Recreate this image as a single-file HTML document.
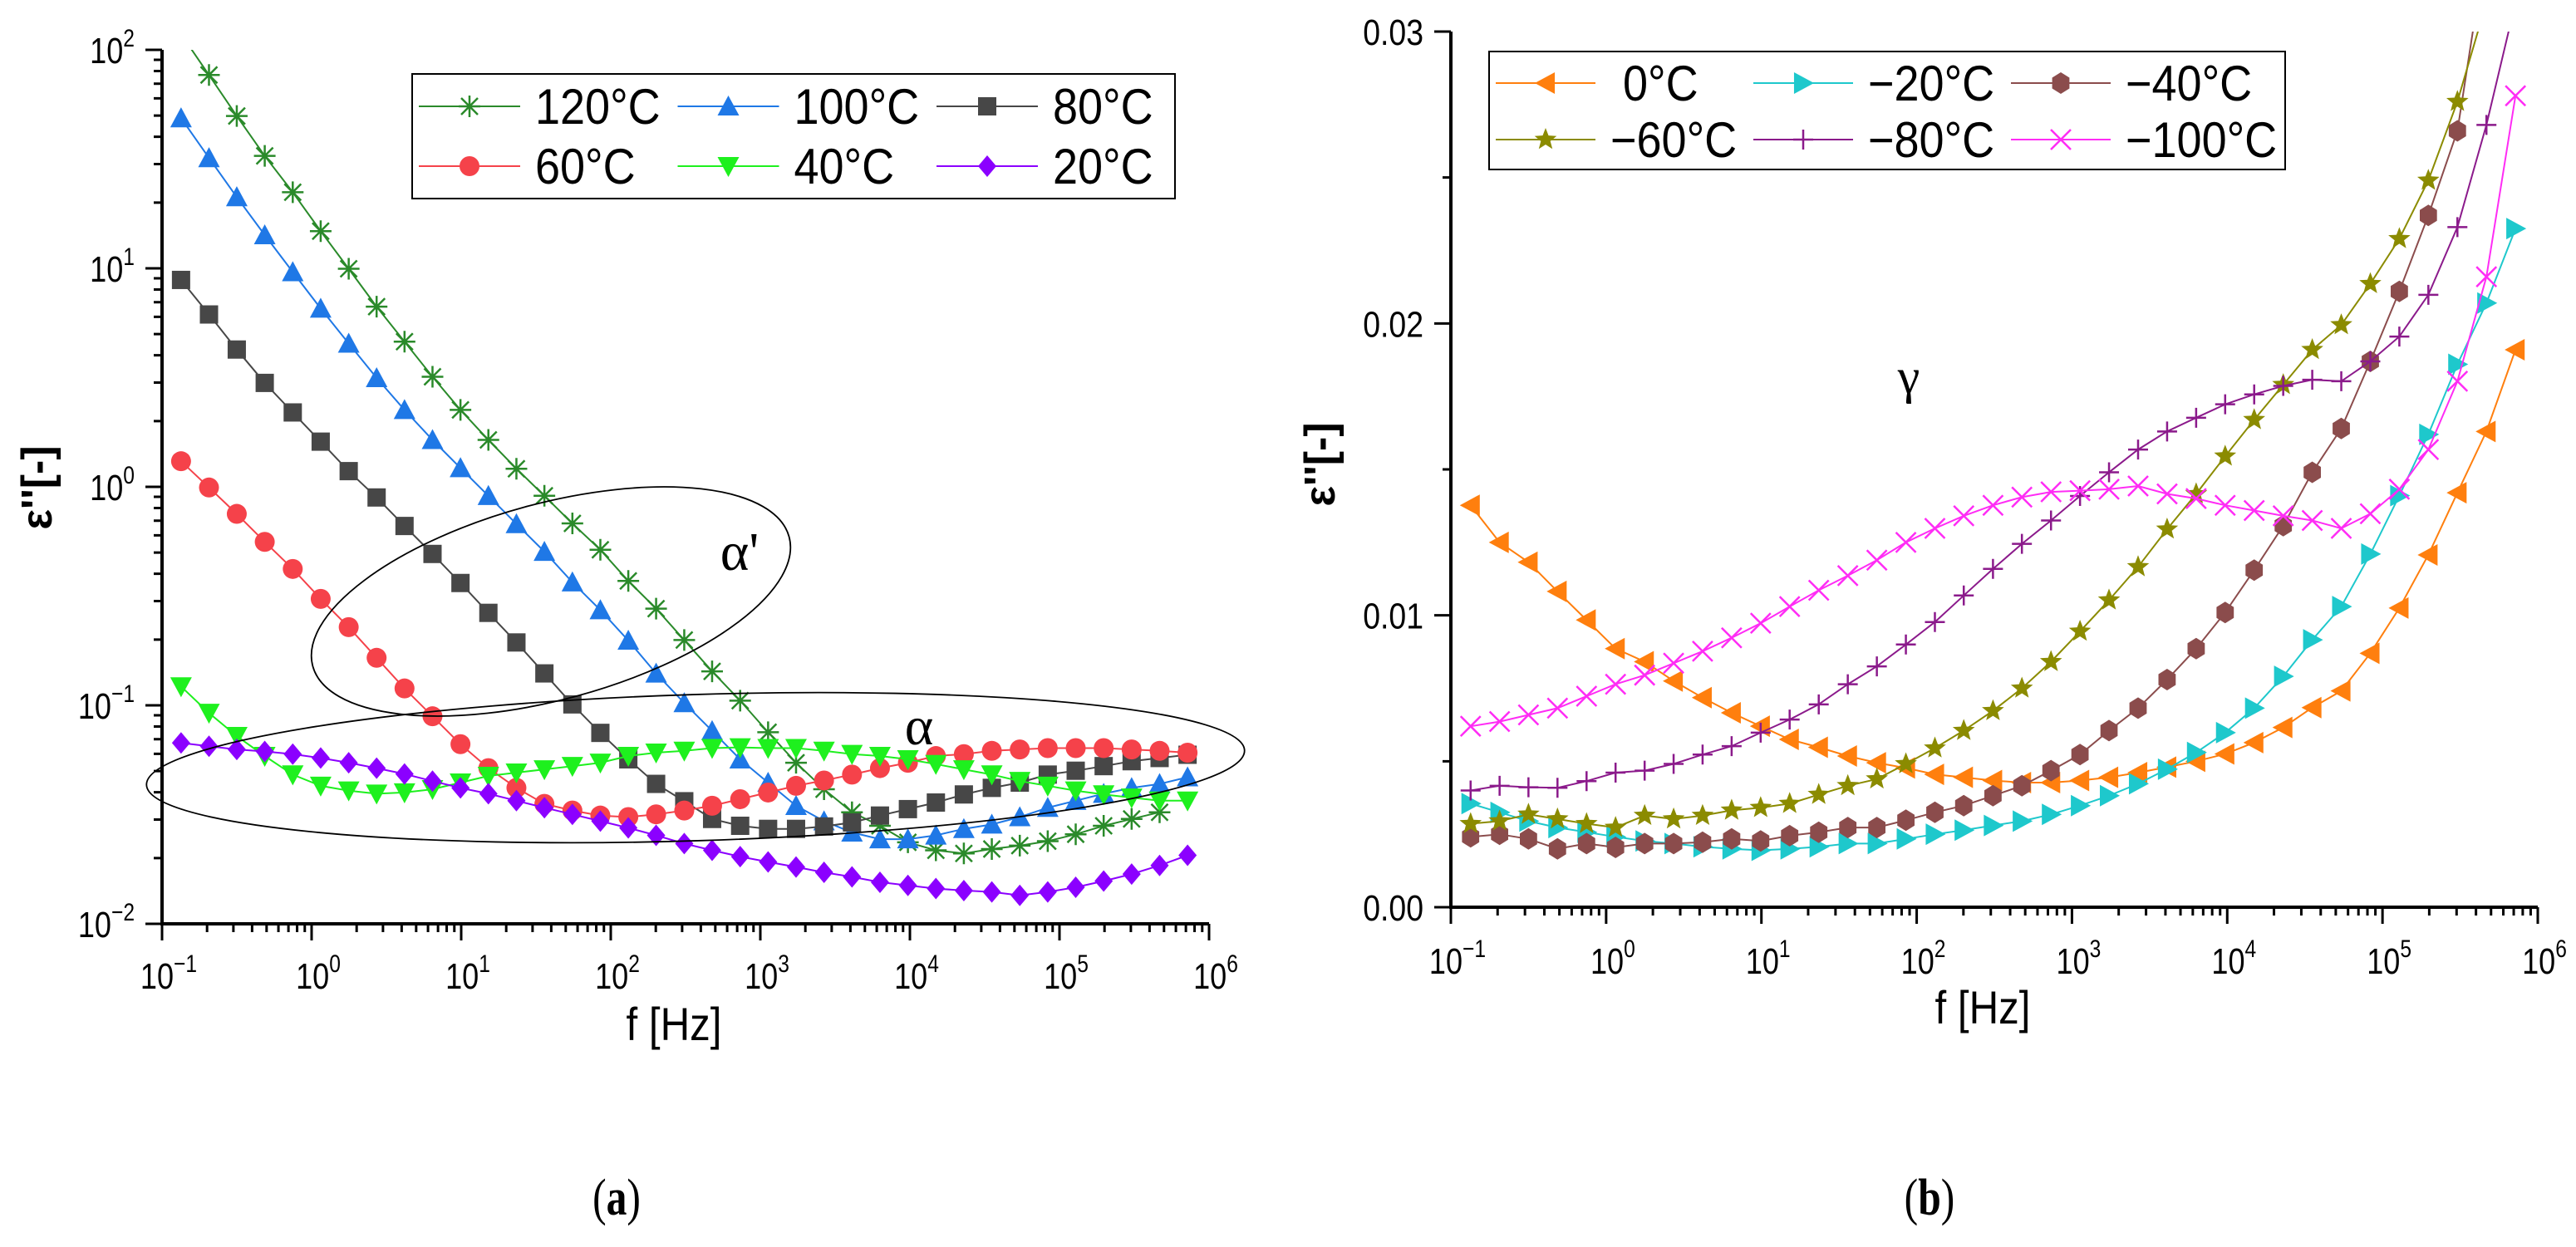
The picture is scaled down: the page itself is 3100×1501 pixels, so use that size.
<!DOCTYPE html>
<html><head><meta charset="utf-8"><style>
html,body{margin:0;padding:0;background:#fff;}
svg{display:block;font-family:"Liberation Sans",Arial,sans-serif;}
</style></head><body>
<svg id="fig" width="3100" height="1501" viewBox="0 0 3100 1501" xmlns="http://www.w3.org/2000/svg">
<defs>
<clipPath id="clipA"><rect x="195" y="60" width="1260" height="1052"/></clipPath>
<clipPath id="clipB"><rect x="1746" y="38" width="1308" height="1054"/></clipPath>
</defs>
<g id="panelA"></g>
<g id="panelB"></g>
</svg>
<script>
// ---- shared data ----
const freqs=[0.134,0.206,0.316,0.486,0.748,1.15,1.77,2.72,4.18,6.43,9.89,15.2,23.4,36.0,55.4,85.2,131,201,310,476,733,1127,1733,2666,4100,6306,9698,14916,22941,35284,54268,83466,128374,197443,303672,467059,718355];
// ---- panel (a) data: epsilon'' ----
const seriesA_names=["120°C","100°C","80°C","60°C","40°C","20°C"];
const eps120=[118,76.7,49.8,32.7,22.3,14.8,9.96,6.68,4.62,3.19,2.25,1.64,1.21,0.91,0.68,0.515,0.371,0.277,0.199,0.143,0.105,0.0753,0.0546,0.0413,0.0324,0.0281,0.0236,0.0217,0.0210,0.0220,0.0228,0.0239,0.0257,0.0281,0.0302,0.0324];
const eps100=[48.7,32.0,21.2,14.2,9.62,6.55,4.53,3.15,2.25,1.64,1.22,0.91,0.676,0.505,0.366,0.273,0.198,0.140,0.1025,0.0764,0.0566,0.0443,0.0347,0.0295,0.0262,0.0244,0.0244,0.0254,0.0272,0.0285,0.0308,0.0340,0.0366,0.0394,0.0419,0.0437,0.0469];
const eps80=[8.85,6.15,4.25,2.99,2.19,1.61,1.18,0.894,0.662,0.493,0.363,0.265,0.194,0.140,0.101,0.0748,0.0566,0.0437,0.0364,0.0302,0.0281,0.0272,0.0272,0.0279,0.0291,0.0313,0.0335,0.0359,0.0391,0.0419,0.0443,0.0482,0.0502,0.0527,0.0555,0.0574,0.0594];
const eps60=[1.31,0.993,0.752,0.560,0.421,0.307,0.228,0.165,0.1195,0.0891,0.0664,0.0516,0.0419,0.0354,0.0330,0.0313,0.0308,0.0317,0.0330,0.0347,0.0372,0.0399,0.0428,0.0453,0.0482,0.0516,0.0546,0.0586,0.0598,0.0619,0.0628,0.0637,0.0637,0.0637,0.0628,0.0619,0.0607];
const eps40=[0.122,0.0923,0.0723,0.0586,0.0482,0.0428,0.0407,0.0394,0.0399,0.0413,0.0443,0.0475,0.0492,0.0509,0.0527,0.0546,0.0586,0.0607,0.0619,0.0637,0.0642,0.0637,0.0637,0.0619,0.0598,0.0586,0.0566,0.0538,0.0509,0.0482,0.0450,0.0428,0.0407,0.0391,0.0378,0.0366,0.0366];
const eps20=[0.0673,0.0650,0.0628,0.0615,0.0598,0.0574,0.0546,0.0516,0.0485,0.0450,0.0419,0.0394,0.0366,0.0340,0.0317,0.0295,0.0275,0.0254,0.0233,0.0217,0.0203,0.0192,0.0182,0.0172,0.0164,0.0155,0.0150,0.0145,0.0142,0.0140,0.0135,0.0140,0.0147,0.0157,0.0169,0.0185,0.0206];
const yTicksA=["−2","−1","0","1","2"];
const xTickExp=["−1","0","1","2","3","4","5","6"];
// ---- panel (b) data: epsilon'' in units of 1e-3 ----
const seriesB_names=["0°C","−20°C","−40°C","−60°C","−80°C","−100°C"];
const epsB0=[13.77,12.5,11.82,10.82,9.84,8.86,8.41,7.75,7.18,6.66,6.20,5.75,5.48,5.18,4.95,4.77,4.55,4.45,4.34,4.27,4.27,4.34,4.45,4.61,4.80,5.00,5.25,5.64,6.16,6.84,7.41,8.70,10.25,12.07,14.2,16.3,19.1];
const epsBm20=[3.55,3.25,2.95,2.73,2.57,2.41,2.27,2.18,2.07,2.00,1.95,2.00,2.07,2.18,2.18,2.34,2.50,2.64,2.80,2.95,3.18,3.48,3.82,4.23,4.73,5.30,5.98,6.82,7.91,9.16,10.3,12.1,14.1,16.2,18.6,20.7,23.25];
const epsBm40=[2.41,2.50,2.34,2.00,2.18,2.05,2.18,2.18,2.23,2.34,2.27,2.45,2.57,2.73,2.73,2.98,3.25,3.48,3.82,4.16,4.68,5.23,6.05,6.82,7.80,8.86,10.1,11.55,13.07,14.9,16.4,18.7,21.1,23.7,26.6,33];
const epsBm60=[2.86,2.95,3.18,3.02,2.86,2.73,3.14,3.02,3.14,3.32,3.41,3.55,3.86,4.16,4.39,4.91,5.45,6.05,6.73,7.50,8.41,9.45,10.52,11.66,12.95,14.16,15.45,16.7,17.9,19.1,19.95,21.36,22.9,24.9,27.6,31];
const epsBm80=[4.0,4.16,4.11,4.09,4.32,4.61,4.68,4.91,5.23,5.52,5.98,6.43,6.95,7.64,8.25,9.0,9.77,10.68,11.59,12.45,13.25,14.09,14.9,15.68,16.3,16.77,17.23,17.57,17.86,18.07,18.02,18.7,19.55,20.98,23.3,26.8,31];
const epsBm100=[6.20,6.36,6.59,6.82,7.23,7.64,7.95,8.36,8.77,9.23,9.73,10.3,10.86,11.36,11.89,12.5,12.98,13.41,13.77,14.05,14.23,14.27,14.32,14.43,14.16,14.0,13.77,13.59,13.41,13.25,12.98,13.48,14.32,15.68,18.02,21.6,27.8];
const yTicksB=["0.00","0.01","0.02","0.03"];
const yTickValsB=[0,10,20,30];

const NS="http://www.w3.org/2000/svg";
function mk(tag,attrs,parent){const e=document.createElementNS(NS,tag);for(const k in attrs)e.setAttribute(k,attrs[k]);if(parent)parent.appendChild(e);return e;}

// axis functions
const XA=f=>195+(Math.log10(f)+1)*(1260/7);
const YA=v=>60+(2-Math.log10(v))*263;
const XB=f=>1746+(Math.log10(f)+1)*(1308/7);
const YB=v=>1092-v/30*1054;

function marker(g,type,x,y,color){
  const s=13;let e;
  const fill={fill:color,stroke:"none"};
  if(type==="tri-up")e=mk("polygon",Object.assign({points:`${x},${y-s} ${x+s},${y+s*0.85} ${x-s},${y+s*0.85}`},fill),g);
  else if(type==="tri-down")e=mk("polygon",Object.assign({points:`${x},${y+s} ${x+s},${y-s*0.85} ${x-s},${y-s*0.85}`},fill),g);
  else if(type==="tri-left")e=mk("polygon",Object.assign({points:`${x-s},${y} ${x+s*0.85},${y-s} ${x+s*0.85},${y+s}`},fill),g);
  else if(type==="tri-right")e=mk("polygon",Object.assign({points:`${x+s},${y} ${x-s*0.85},${y-s} ${x-s*0.85},${y+s}`},fill),g);
  else if(type==="square")e=mk("rect",Object.assign({x:x-11,y:y-11,width:22,height:22},fill),g);
  else if(type==="circle")e=mk("circle",Object.assign({cx:x,cy:y,r:12},fill),g);
  else if(type==="diamond")e=mk("polygon",Object.assign({points:`${x},${y-s} ${x+11},${y} ${x},${y+s} ${x-11},${y}`},fill),g);
  else if(type==="hex"){let p=[];for(let k=0;k<6;k++){const a=Math.PI/6+k*Math.PI/3;p.push((x+12*Math.cos(a)).toFixed(1)+","+(y+13*Math.sin(a)).toFixed(1));}e=mk("polygon",Object.assign({points:p.join(" ")},fill),g);}
  else if(type==="star"){let p=[];for(let k=0;k<10;k++){const a=-Math.PI/2+k*Math.PI/5,r=k%2?6:14;p.push((x+r*Math.cos(a)).toFixed(1)+","+(y+r*Math.sin(a)).toFixed(1));}e=mk("polygon",Object.assign({points:p.join(" ")},fill),g);}
  else if(type==="asterisk"){e=mk("path",{d:`M${x-13},${y}H${x+13}M${x},${y-13}V${y+13}M${x-10},${y-10}L${x+10},${y+10}M${x+10},${y-10}L${x-10},${y+10}`,stroke:color,"stroke-width":2.5,fill:"none"},g);}
  else if(type==="plus"){e=mk("path",{d:`M${x-12},${y}H${x+12}M${x},${y-12}V${y+12}`,stroke:color,"stroke-width":2.5,fill:"none"},g);}
  else if(type==="cross"){e=mk("path",{d:`M${x-12},${y-12}L${x+12},${y+12}M${x+12},${y-12}L${x-12},${y+12}`,stroke:color,"stroke-width":2.5,fill:"none"},g);}
  return e;
}

function txt(g,x,y,str,size,anchor,opts){
  opts=opts||{};
  const t=mk("text",{transform:`translate(${x},${y}) scale(${opts.sx||1},${opts.sy||1})${opts.rot?" rotate("+opts.rot+")":""}`,"font-size":size,"text-anchor":anchor||"start",fill:"#000"},g);
  if(opts.weight)t.setAttribute("font-weight",opts.weight);
  if(opts.family)t.setAttribute("font-family",opts.family);
  t.textContent=str;return t;
}
function powTxt(g,x,y,exp,anchor){
  const t=mk("text",{transform:`translate(${x},${y}) scale(0.82,1)`,"font-size":44,"text-anchor":anchor,fill:"#000"},g);
  const a=mk("tspan",{},t);a.textContent="10";
  const b=mk("tspan",{"font-size":30,dy:-20},t);b.textContent=exp;
  return t;
}

function drawSeries(g,vals,X,Y,color,type,name,clip){
  const sg=mk("g",{"clip-path":`url(#${clip})`},g);
  
  
  let d="";let started=false;
  vals.forEach((v,i)=>{if(v==null)return;const x=X(freqs[i]),y=Y(v);d+=(started?"L":"M")+x.toFixed(1)+","+y.toFixed(1);started=true;});
  const ln=mk("path",{d:d,fill:"none",stroke:color,"stroke-width":2},sg);
  
  
  vals.forEach((v,i)=>{if(v==null)return;const m=marker(sg,type,X(freqs[i]),Y(v),color);
    
    });
}

// ===== Panel A =====
const A=document.getElementById("panelA");
const colorsA=["#2a8a2a","#1f78e6","#474747","#f5424a","#1ef01e","#8b00ff"];
const typesA=["asterisk","tri-up","square","circle","tri-down","diamond"];
const dataA=[eps120,eps100,eps80,eps60,eps40,eps20];
dataA.forEach((vals,k)=>drawSeries(A,vals,XA,YA,colorsA[k],typesA[k],"series-"+seriesA_names[k].replace("°C","c"),"clipA"));
const axA=mk("path",{d:"M195,60V1112H1455",fill:"none",stroke:"#000","stroke-width":4},A);


let tickD="";
for(let dcd=-2;dcd<=2;dcd++){const y=YA(Math.pow(10,dcd));tickD+=`M175,${y}H195`;if(dcd<2)for(let m=2;m<=9;m++){const yy=YA(m*Math.pow(10,dcd));tickD+=`M185,${yy}H195`;}}
for(let dcd=-1;dcd<=6;dcd++){const x=XA(Math.pow(10,dcd));tickD+=`M${x},1112V1132`;if(dcd<6)for(let m=2;m<=9;m++){const xx=XA(m*Math.pow(10,dcd));tickD+=`M${xx},1112V1122`;}}
const tkA=mk("path",{d:tickD,stroke:"#000","stroke-width":3,fill:"none"},A);


yTicksA.forEach((e,i)=>{const t=powTxt(A,162,YA(Math.pow(10,i-2))+16,e,"end");
  
  });
xTickExp.forEach((e,i)=>{const t=powTxt(A,XA(Math.pow(10,i-1))+8,1190,e,"middle");
  
  });
let t;
t=txt(A,62,587,"ε''[-]",52,"middle",{rot:-90,weight:"bold"});


t=txt(A,811,1252,"f [Hz]",56,"middle",{sx:0.88});


t=mk("ellipse",{cx:663,cy:724,rx:297,ry:118,transform:"rotate(-15.2 663 724)",fill:"none",stroke:"#000","stroke-width":1.8},A);


t=mk("ellipse",{cx:837,cy:924,rx:661,ry:88,transform:"rotate(-1.8 837 924)",fill:"none",stroke:"#000","stroke-width":1.8},A);


t=txt(A,890,686,"α'",66,"middle",{family:"Liberation Serif, serif"});


t=txt(A,1106,896,"α",66,"middle",{family:"Liberation Serif, serif"});


const lgA=mk("g",{},A);


mk("rect",{x:496,y:89,width:918,height:150,fill:"#fff",stroke:"#000","stroke-width":2},lgA);
seriesA_names.forEach((n,k)=>{
  const col=k%3,row=Math.floor(k/3);const x0=504+col*311.5,y0=128+row*72;
  const eg=mk("g",{},lgA);
  
  
  mk("line",{x1:x0,y1:y0,x2:x0+122,y2:y0,stroke:colorsA[k],"stroke-width":2},eg);
  marker(eg,typesA[k],x0+61,y0,colorsA[k]);
  txt(eg,x0+140,y0+21,n,60,"start",{sx:0.9});
});
t=txt(A,742,1462,"(a)",62,"middle",{family:"Liberation Serif, serif",sx:0.8});


t.innerHTML='(<tspan font-weight="bold">a</tspan>)';

// ===== Panel B =====
const B=document.getElementById("panelB");
const colorsB=["#ff7f0e","#1ec8cc","#8b4c4c","#8b8b00","#8b1a8b","#ff2cf5"];
const typesB=["tri-left","tri-right","hex","star","plus","cross"];
const dataB=[epsB0,epsBm20,epsBm40,epsBm60,epsBm80,epsBm100];
dataB.forEach((vals,k)=>drawSeries(B,vals,XB,YB,colorsB[k],typesB[k],"series-"+["0c","m20c","m40c","m60c","m80c","m100c"][k],"clipB"));
const axB=mk("path",{d:"M1746,38V1092H3054",fill:"none",stroke:"#000","stroke-width":4},B);


tickD="";
for(let v=0;v<=30;v+=5){const y=YB(v);tickD+=(v%10===0)?`M1726,${y}H1746`:`M1736,${y}H1746`;}
for(let dcd=-1;dcd<=6;dcd++){const x=XB(Math.pow(10,dcd));tickD+=`M${x},1092V1112`;if(dcd<6)for(let m=2;m<=9;m++){const xx=XB(m*Math.pow(10,dcd));tickD+=`M${xx},1092V1102`;}}
const tkB=mk("path",{d:tickD,stroke:"#000","stroke-width":3,fill:"none"},B);


yTicksB.forEach((s,i)=>{const t=txt(B,1713,YB(yTickValsB[i])+16,s,44,"end",{sx:0.85});
  
  });
xTickExp.forEach((e,i)=>{const t=powTxt(B,XB(Math.pow(10,i-1))+8,1172,e,"middle");
  
  });
t=txt(B,1606,559,"ε''[-]",52,"middle",{rot:-90,weight:"bold"});


t=txt(B,2386,1232,"f [Hz]",56,"middle",{sx:0.88});


t=txt(B,2297,473,"γ",60,"middle",{family:"Liberation Serif, serif"});


const lgB=mk("g",{},B);


mk("rect",{x:1792,y:62,width:958,height:142,fill:"#fff",stroke:"#000","stroke-width":2},lgB);
seriesB_names.forEach((n,k)=>{
  const col=k%3,row=Math.floor(k/3);const x0=1800+col*310,y0=100+row*68;
  const eg=mk("g",{},lgB);
  
  
  mk("line",{x1:x0,y1:y0,x2:x0+120,y2:y0,stroke:colorsB[k],"stroke-width":2},eg);
  marker(eg,typesB[k],x0+60,y0,colorsB[k]);
  const tx=(n==="0°C")?x0+153:x0+138;
  txt(eg,tx,y0+21,n,60,"start",{sx:0.9});
});
t=txt(B,2322,1462,"(b)",62,"middle",{family:"Liberation Serif, serif",sx:0.8});


t.innerHTML='(<tspan font-weight="bold">b</tspan>)';
</script>
</body></html>
